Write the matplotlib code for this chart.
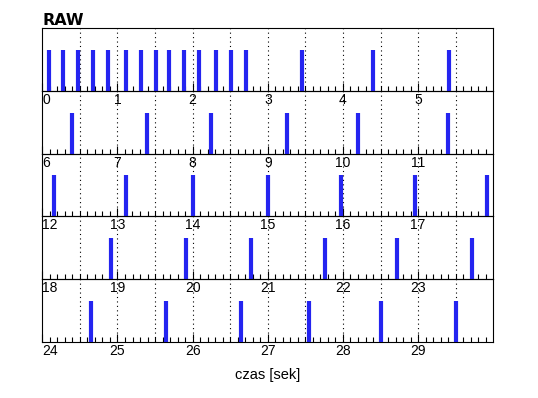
import numpy as np
import matplotlib
matplotlib.use("Agg")
import matplotlib.pyplot as plt

# spike times [s]
spike_times = [
    0.09, 0.27, 0.47, 0.67, 0.88, 1.11, 1.31, 1.51, 1.69, 1.89, 2.09, 2.31, 2.51, 2.71,
    3.46, 4.40, 5.41,
    6.40, 7.39, 8.25, 9.25, 10.20, 11.40,
    12.16, 13.12, 14.00, 15.00, 15.98, 16.96, 17.91,
    18.91, 19.91, 20.77, 21.76, 22.72, 23.71,
    24.65, 25.65, 26.64, 27.55, 28.51, 29.51,
]
row_starts = [0, 6, 12, 18, 24]
row_span = 6.0
title = "RAW"
xlabel = "czas [sek]"

W, H = 538, 398
fig = plt.figure(figsize=(W / 100, H / 100), dpi=100)
plt.rcParams["font.family"] = ["Liberation Sans", "DejaVu Sans"]

left_px, right_px = 42.3, 493.3
top_px, row_h = 28.3, 62.7
spikes = np.array(spike_times)
blue = "#2424f0"

for i, start in enumerate(row_starts):
    bottom = 1 - (top_px + row_h * (i + 1)) / H
    ax = fig.add_axes([left_px / W, bottom, (right_px - left_px) / W, row_h / H])
    end = start + row_span
    sel = spikes[(spikes >= start) & (spikes < end)]
    ax.vlines(sel, 0, 1, colors=blue, linewidth=3.0, zorder=3)
    ax.set_xlim(start, end)
    ax.set_ylim(0, 1.53)
    ax.set_yticks([])

    for g in np.arange(start + 0.5, end, 0.5):
        ax.axvline(g, color="black", linewidth=0.8, linestyle=(0, (1, 3)), zorder=1)

    ax.set_xticks(np.arange(start, end))
    ax.set_xticklabels([str(v) for v in range(start, start + 6)], fontsize=10)
    ax.set_xticks(np.arange(start, end, 0.1), minor=True)
    ax.tick_params(axis="x", which="major", direction="in", length=6, width=0.8, pad=1.5)
    ax.tick_params(axis="x", which="minor", direction="in", length=3.5, width=0.8)
    ax.get_xticklabels()[0].set_ha("left")
    for s in ax.spines.values():
        s.set_linewidth(0.8)
    ax.patch.set_alpha(0)

fig.text(left_px / W, 1 - 25 / H, title, fontsize=11.5, fontweight="bold",
         family="DejaVu Sans", va="baseline", ha="left")
fig.text((left_px + right_px) / 2 / W, 1 - 375 / H, xlabel, fontsize=10.5,
         ha="center", va="center")

fig.savefig("out.png", dpi=100)
